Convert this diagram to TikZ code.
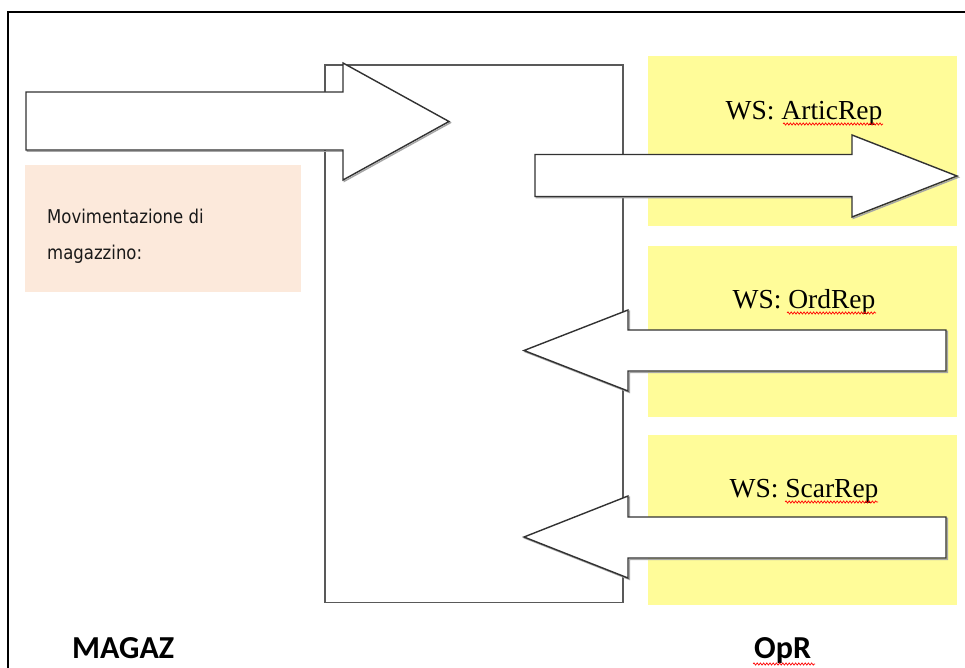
\documentclass[tikz,border=0pt]{standalone}
\usepackage{fontspec}
\setmainfont{Liberation Serif}
\newfontfamily\bodysans[FakeStretch=0.87]{DejaVu Sans}
\newfontfamily\titlesans{Carlito}
\usetikzlibrary{decorations.pathmorphing}
\definecolor{wsyellow}{RGB}{255,252,153}
\definecolor{peach}{RGB}{252,233,219}
\definecolor{outline}{RGB}{50,50,50}
\tikzset{
  blockarrow/.style={fill=white, draw=outline, line width=1.4pt, line join=miter,
    preaction={draw=black!35, line width=1.4pt, transform canvas={shift={(1.3,1.3)}}}},
  mainbox/.style={fill=white, draw=black!65, line width=1.7pt},
  wslabel/.style={anchor=base, inner sep=0pt, font=\fontsize{27.5}{33}\selectfont},
  notelabel/.style={anchor=base west, inner sep=0pt, text=black!90, font=\bodysans\fontsize{19}{23}\selectfont},
  biglabel/.style={anchor=base west, inner sep=0pt, font=\titlesans\bfseries\fontsize{32}{38}\selectfont},
  squiggle/.style={draw=red, line width=0.7pt, decorate, decoration={snake, amplitude=1.1pt, segment length=3.2pt}}
}
\begin{document}
\begin{tikzpicture}[x=1pt,y=-1pt]
\useasboundingbox (0,0) rectangle (965,668);
% outer frame
\draw[line width=2.6pt, black] (8,668) -- (8,12) -- (965,12);
% coloured panels
\fill[wsyellow] (648,56) rectangle (957,225.5);
\fill[wsyellow] (648,246) rectangle (957,417);
\fill[wsyellow] (648,435) rectangle (957,605);
\fill[peach] (25,165) rectangle (301,292);
% central box
\draw[mainbox] (325,65) rectangle (623,602.5);
% block arrows
\draw[blockarrow] (26,92) -- (343,92) -- (343,63) -- (449,121.5) -- (343,180) -- (343,150) -- (26,150) -- cycle;
\draw[blockarrow] (535,154.5) -- (852,154.5) -- (852,135) -- (957,176) -- (852,217) -- (852,196.5) -- (535,196.5) -- cycle;
\draw[blockarrow] (946,330) -- (628,330) -- (628,310) -- (524,350.5) -- (628,391) -- (628,371) -- (946,371) -- cycle;
\draw[blockarrow] (946,517) -- (628,517) -- (628,496) -- (524,537) -- (628,578) -- (628,558) -- (946,558) -- cycle;
% labels
\node[wslabel] (l1) at (804,119.5) {WS: ArticRep};
\node[wslabel] (l2) at (804,308) {WS: OrdRep};
\node[wslabel] (l3) at (804,497) {WS: ScarRep};
\node[notelabel] (n1) at (47,223) {Movimentazione di};
\node[notelabel] (n2) at (47,259) {magazzino:};
\node[biglabel] (magaz) at (72,658) {MAGAZ};
\node[biglabel] (opr) at (754,658) {OpR};
% spell-check squiggles
\draw[squiggle] (783,124) -- (883,124);
\draw[squiggle] (787,313) -- (876,313);
\draw[squiggle] (785,502) -- (878,502);
\draw[squiggle] (753,664) -- (815,664);
\end{tikzpicture}
\end{document}
